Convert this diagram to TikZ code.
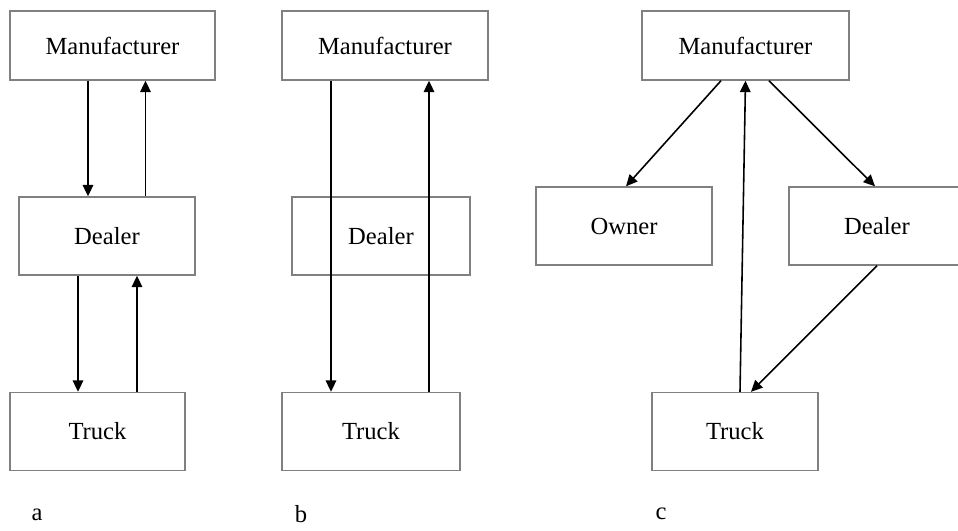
\documentclass[tikz,border=0pt]{standalone}
\usepackage{fontspec}
\setmainfont{Liberation Serif}
\usepackage{tikz}
\usetikzlibrary{arrows.meta,positioning,calc}
\definecolor{boxgray}{RGB}{128,128,128}

\begin{document}
\begin{tikzpicture}[
    x=0.02cm, y=-0.02cm,
    box/.style={draw=boxgray, line width=0.8pt, minimum height=1.56cm, font=\fontsize{14}{16}\selectfont},
    flow/.style={draw=black, line width=0.9pt, -{Triangle[length=6.5pt, width=6pt]}},
    tag/.style={font=\fontsize{14}{16}\selectfont}
]
\useasboundingbox (0,0) rectangle (958,531);

% a
\node[box, minimum width=4.1cm, minimum height=1.38cm] (aman) at (112.5, 45.5) {Manufacturer};
\node[box, minimum width=3.52cm] (adeal) at (107, 236) {Dealer};
\node[box, minimum width=3.5cm] (atruck) at (97.5, 431.5) {Truck};

\draw[flow] (aman.south -| 88,0) -- (adeal.north -| 88,0);
\draw[flow] (adeal.north -| 145.5,0) -- (aman.south -| 145.5,0);
\draw[flow] (adeal.south -| 78,0) -- (atruck.north -| 78,0);
\draw[flow] (atruck.north -| 137,0) -- (adeal.south -| 137,0);

\node[tag] (alab) at (37, 515) {a};

% b
\node[box, minimum width=4.12cm, minimum height=1.38cm] (bman) at (385, 45.5) {Manufacturer};
\node[box, minimum width=3.56cm] (bdeal) at (381, 236) {Dealer};
\node[box, minimum width=3.56cm] (btruck) at (371, 431.5) {Truck};

\draw[flow] (bman.south -| 331,0) -- (btruck.north -| 331,0);
\draw[flow] (btruck.north -| 429,0) -- (bman.south -| 429,0);

\node[tag] (blab) at (301, 514) {b};

% c
\node[box, minimum width=4.14cm, minimum height=1.38cm] (cman) at (745.5, 45.5) {Manufacturer};
\node[box, minimum width=3.52cm] (cown) at (624, 226) {Owner};
\node[box, minimum width=3.52cm] (cdeal) at (877, 226) {Dealer};
\node[box, minimum width=3.32cm] (ctruck) at (735, 431.5) {Truck};

\draw[flow] (cman.south -| 721,0) -- (cown.north -| 626,0);
\draw[flow] (cman.south -| 769,0) -- (cdeal.north -| 875,0);
\draw[flow] (cdeal.south) -- (ctruck.north -| 751,0);
\draw[flow] (ctruck.north -| 740,0) -- (cman.south);

\node[tag] (clab) at (661, 514) {c};

\end{tikzpicture}
\end{document}
